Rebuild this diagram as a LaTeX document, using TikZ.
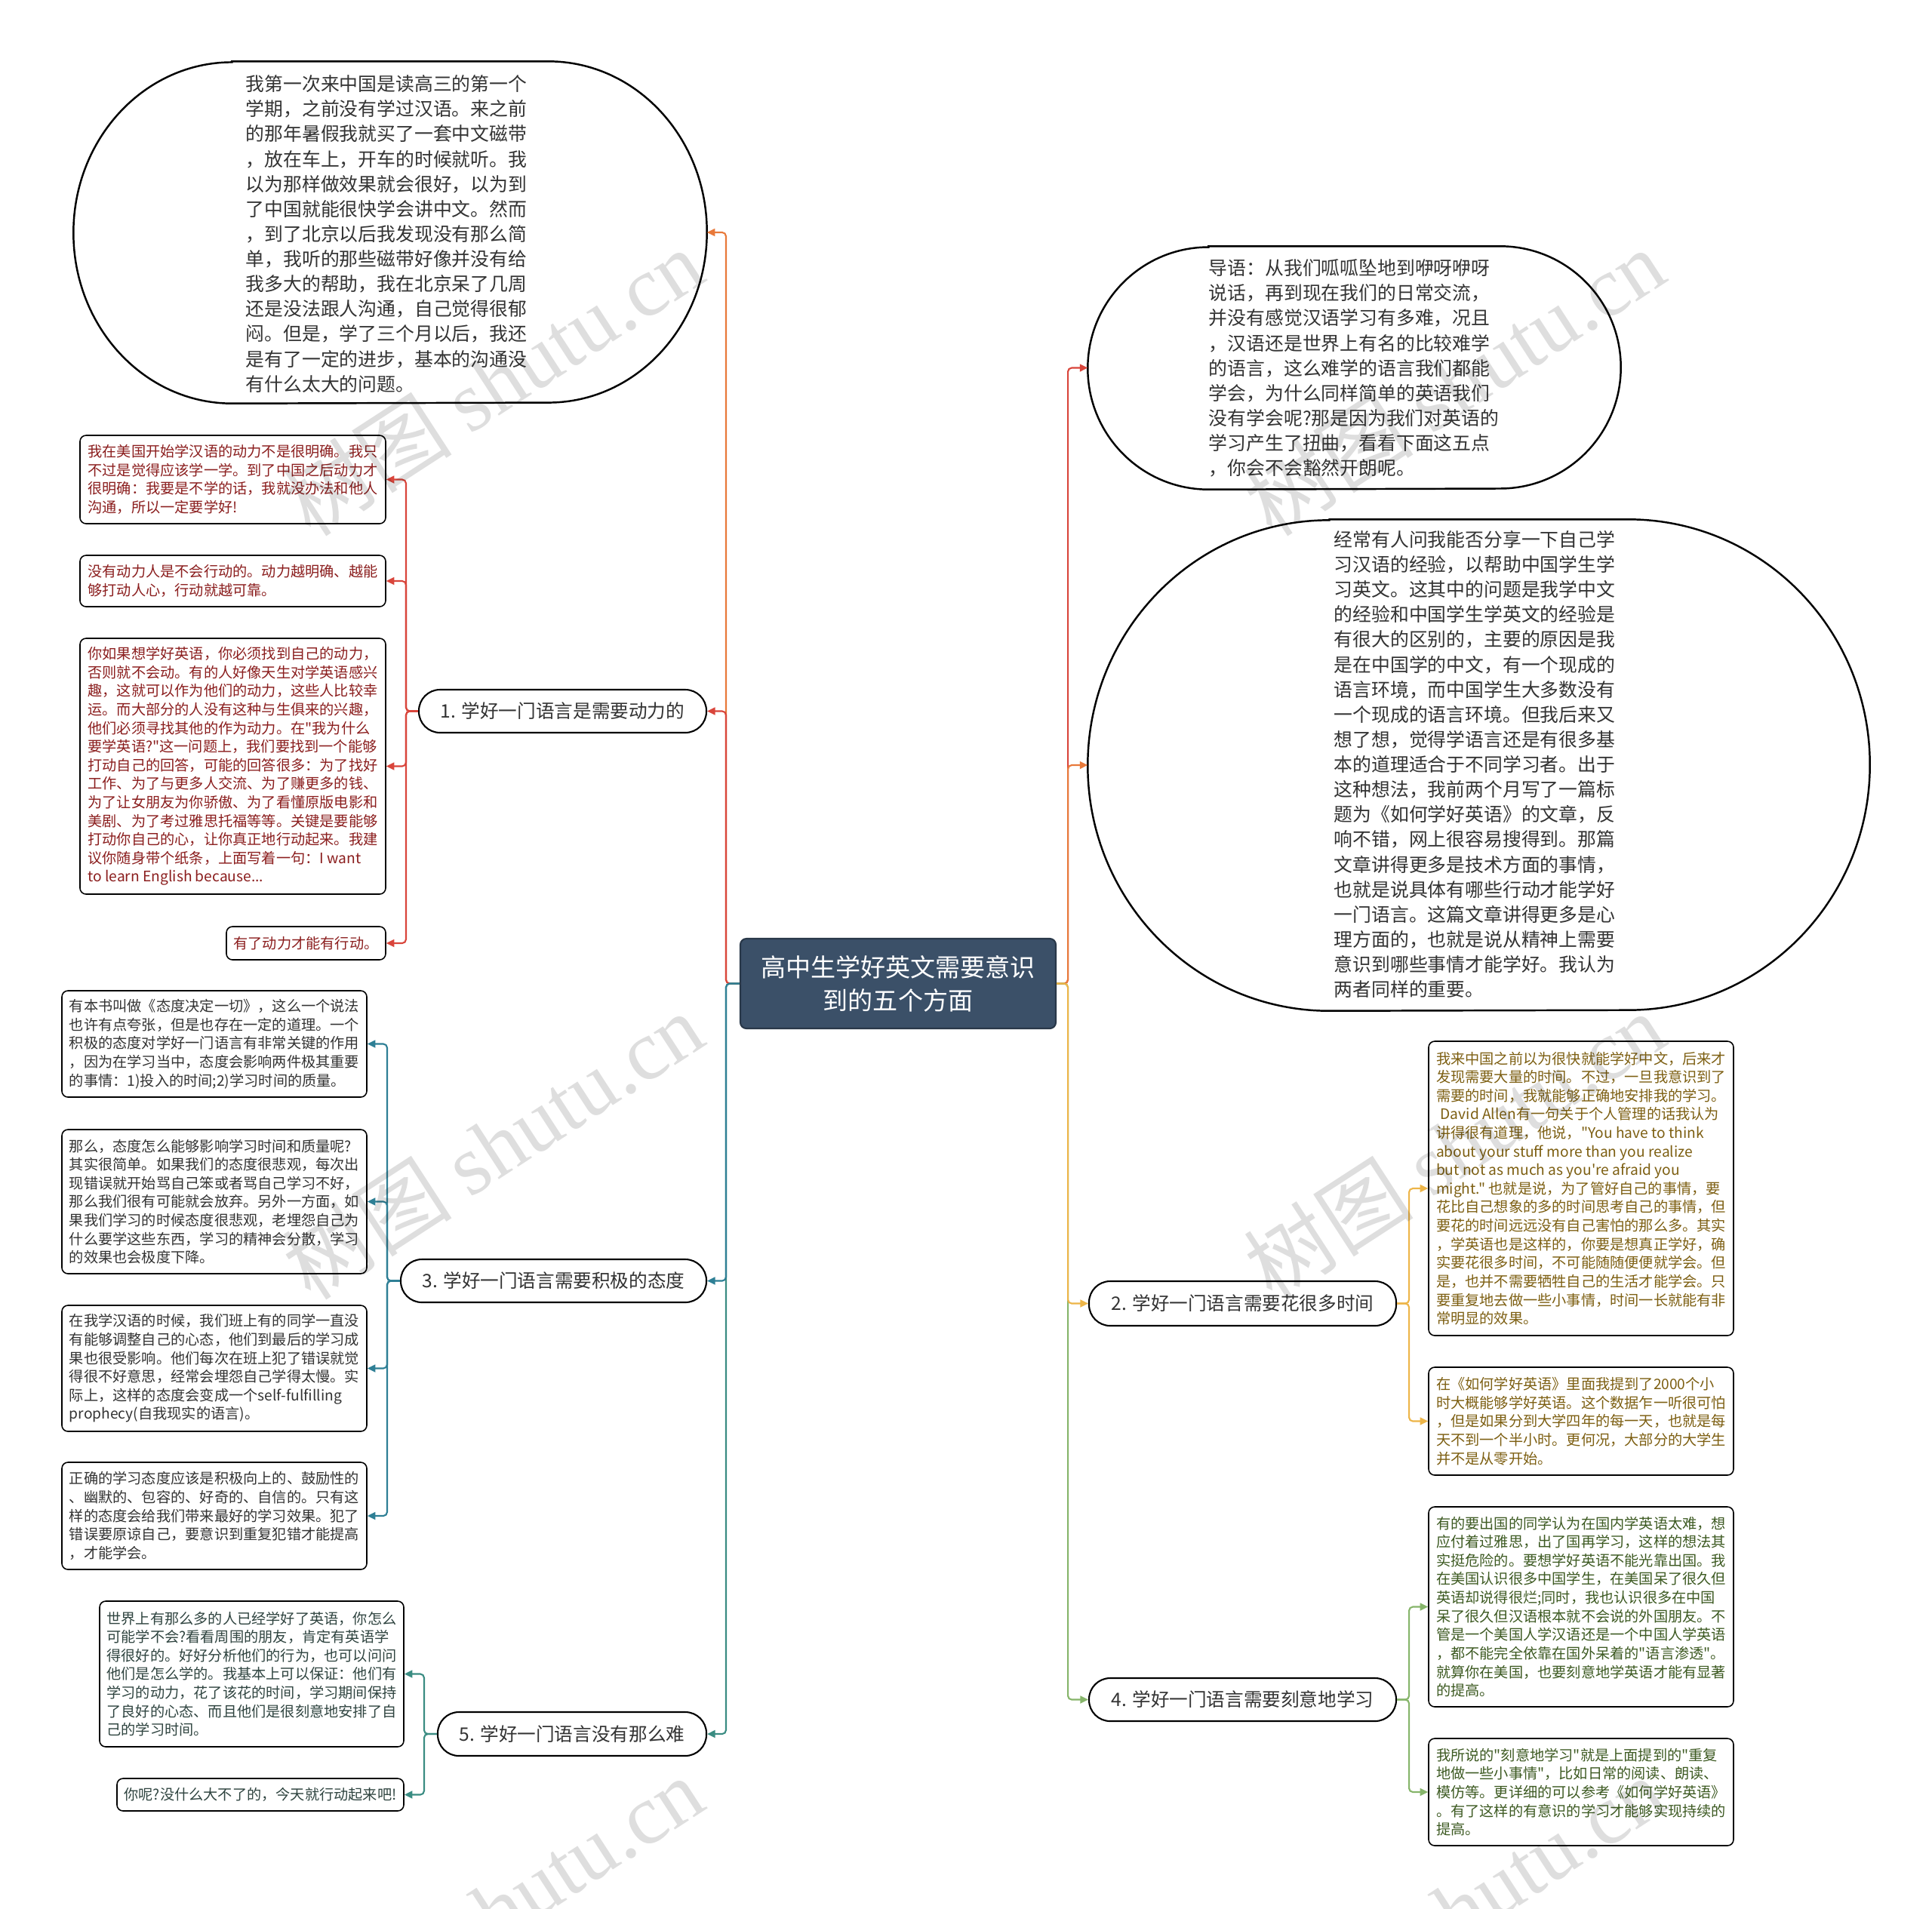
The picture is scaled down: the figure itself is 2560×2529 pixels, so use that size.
\documentclass[tikz,border=0pt]{standalone}
\usepackage{fontspec}
\setmainfont{Noto Sans CJK SC}
\newfontfamily\mainf{Noto Sans CJK SC}
\newfontfamily\wmlatin{Liberation Serif}
\newfontfamily\wmcjk{Noto Sans CJK SC}
\usetikzlibrary{shapes.geometric,arrows.meta}
\newdimen\upx \upx=0.01cm
\definecolor{cOrange}{HTML}{E8793A}
\definecolor{cRed}{HTML}{D9453B}
\definecolor{cTeal}{HTML}{2E7F95}
\definecolor{cDTeal}{HTML}{3A8C82}
\definecolor{cYellow}{HTML}{EDB548}
\definecolor{cGreen}{HTML}{86B56A}
\definecolor{cCenter}{HTML}{3B5068}
\definecolor{tRed}{HTML}{8B1E1E}
\definecolor{tGold}{HTML}{7D5F12}
\definecolor{tGreen}{HTML}{3D5A22}
\definecolor{tDark}{HTML}{333333}
\definecolor{tSlate}{HTML}{2F4440}
\tikzset{
  box/.style={draw=black, line width=0.45pt, rounded corners=0.08cm, fill=white, align=left, inner sep=0pt, font=\mainf\fontsize{5.46pt}{7pt}\selectfont},
  ellnode/.style={rectangle, draw=none, inner sep=0pt},
  ellline/.style={draw=black, line width=0.7pt, fill=white},
  elltext/.style={align=left, inner sep=0pt, text=tDark, font=\mainf\fontsize{7.06pt}{9.42pt}\selectfont},
  pill/.style={draw=black, line width=0.6pt, rounded corners=0.28cm, fill=white, inner sep=0pt, text=tDark, font=\mainf\fontsize{7pt}{9pt}\selectfont},
  centerbox/.style={draw=cCenter!70!black, line width=0.6pt, fill=cCenter, rounded corners=0.08cm, text=white, align=center, inner sep=0pt, font=\mainf\fontsize{9.4pt}{12.5pt}\selectfont},
  conn/.style={line width=0.6pt, -{Triangle[length=3pt,width=2.8pt]}, rounded corners=0.05cm},
  wm/.style={rotate=33, text=black, opacity=0.13, font=\fontsize{32pt}{36pt}\selectfont}
}
\begin{document}
\begin{tikzpicture}[x=0.01cm, y=-0.01cm]
\useasboundingbox (0,0) rectangle (2560,2529);
\fill[white] (0,0) rectangle (2560,2529);

% center
\node[centerbox, minimum width=418\upx, minimum height=119\upx] (c) at (1190,1303.5) {高中生学好英文需要意识\\到的五个方面};

% left capsule
\node[ellnode, minimum width=838\upx, minimum height=452\upx] (le) at (517,308) {};
\draw[ellline] ([xshift=2.1cm]le.north west) -- ([xshift=-2.1cm]le.north east)
  arc[start angle=90, end angle=-90, x radius=2.1cm, y radius=2.26cm]
  -- ([xshift=2.1cm]le.south west)
  arc[start angle=270, end angle=90, x radius=2.1cm, y radius=2.26cm] -- cycle;
\node[elltext] (let) at (512,310) {我第一次来中国是读高三的第一个\\学期，之前没有学过汉语。来之前\\的那年暑假我就买了一套中文磁带\\，放在车上，开车的时候就听。我\\以为那样做效果就会很好，以为到\\了中国就能很快学会讲中文。然而\\，到了北京以后我发现没有那么简\\单，我听的那些磁带好像并没有给\\我多大的帮助，我在北京呆了几周\\还是没法跟人沟通，自己觉得很郁\\闷。但是，学了三个月以后，我还\\是有了一定的进步，基本的沟通没\\有什么太大的问题。};

% right capsules
\node[ellnode, minimum width=705\upx, minimum height=321\upx] (re1) at (1794.5,487.5) {};
\draw[ellline] ([xshift=1.6cm]re1.north west) -- ([xshift=-1.6cm]re1.north east)
  arc[start angle=90, end angle=-90, x radius=1.6cm, y radius=1.605cm]
  -- ([xshift=1.6cm]re1.south west)
  arc[start angle=270, end angle=90, x radius=1.6cm, y radius=1.605cm] -- cycle;
\node[elltext] (re1t) at (1794,488) {导语：从我们呱呱坠地到咿呀咿呀\\说话，再到现在我们的日常交流，\\并没有感觉汉语学习有多难，况且\\，汉语还是世界上有名的比较难学\\的语言，这么难学的语言我们都能\\学会，为什么同样简单的英语我们\\没有学会呢?那是因为我们对英语的\\学习产生了扭曲，看看下面这五点\\，你会不会豁然开朗呢。};

\node[ellnode, minimum width=1035\upx, minimum height=650\upx] (re2) at (1959.5,1014) {};
\draw[ellline] ([xshift=3.2cm]re2.north west) -- ([xshift=-3.2cm]re2.north east)
  arc[start angle=90, end angle=-90, x radius=3.2cm, y radius=3.25cm]
  -- ([xshift=3.2cm]re2.south west)
  arc[start angle=270, end angle=90, x radius=3.2cm, y radius=3.25cm] -- cycle;
\node[elltext] (re2t) at (1954,1013) {经常有人问我能否分享一下自己学\\习汉语的经验，以帮助中国学生学\\习英文。这其中的问题是我学中文\\的经验和中国学生学英文的经验是\\有很大的区别的，主要的原因是我\\是在中国学的中文，有一个现成的\\语言环境，而中国学生大多数没有\\一个现成的语言环境。但我后来又\\想了想，觉得学语言还是有很多基\\本的道理适合于不同学习者。出于\\这种想法，我前两个月写了一篇标\\题为《如何学好英语》的文章，反\\响不错，网上很容易搜得到。那篇\\文章讲得更多是技术方面的事情，\\也就是说具体有哪些行动才能学好\\一门语言。这篇文章讲得更多是心\\理方面的，也就是说从精神上需要\\意识到哪些事情才能学好。我认为\\两者同样的重要。};

% branch nodes
\node[pill, minimum width=381\upx, minimum height=57\upx] (n1) at (745.5,942.5) {1. 学好一门语言是需要动力的};
\node[pill, minimum width=405\upx, minimum height=57\upx] (n3) at (733.5,1697.5) {3. 学好一门语言需要积极的态度};
\node[pill, minimum width=356\upx, minimum height=58\upx] (n5) at (758,2298) {5. 学好一门语言没有那么难};
\node[pill, minimum width=407\upx, minimum height=59\upx] (n2) at (1646.5,1727.5) {2. 学好一门语言需要花很多时间};
\node[pill, minimum width=407\upx, minimum height=57\upx] (n4) at (1646.5,2252.5) {4. 学好一门语言需要刻意地学习};

% red boxes
\node[box, text=tRed, minimum width=405\upx, minimum height=117\upx] (r1) at (308.5,635.5) {我在美国开始学汉语的动力不是很明确。我只\\不过是觉得应该学一学。到了中国之后动力才\\很明确：我要是不学的话，我就没办法和他人\\沟通，所以一定要学好!};
\node[box, text=tRed, minimum width=405\upx, minimum height=68\upx] (r2) at (308.5,770) {没有动力人是不会行动的。动力越明确、越能\\够打动人心，行动就越可靠。};
\node[box, text=tRed, minimum width=405\upx, minimum height=339\upx] (r3) at (308.5,1015.5) {你如果想学好英语，你必须找到自己的动力，\\否则就不会动。有的人好像天生对学英语感兴\\趣，这就可以作为他们的动力，这些人比较幸\\运。而大部分的人没有这种与生俱来的兴趣，\\他们必须寻找其他的作为动力。在"我为什么\\要学英语?"这一问题上，我们要找到一个能够\\打动自己的回答，可能的回答很多：为了找好\\工作、为了与更多人交流、为了赚更多的钱、\\为了让女朋友为你骄傲、为了看懂原版电影和\\美剧、为了考过雅思托福等等。关键是要能够\\打动你自己的心，让你真正地行动起来。我建\\议你随身带个纸条，上面写着一句：I want\\to learn English because...};
\node[box, text=tRed, minimum width=211\upx, minimum height=44\upx] (r4) at (405.5,1250) {有了动力才能有行动。};

% teal boxes
\node[box, text=tDark, minimum width=404\upx, minimum height=141\upx] (t1) at (284,1383.5) {有本书叫做《态度决定一切》，这么一个说法\\也许有点夸张，但是也存在一定的道理。一个\\积极的态度对学好一门语言有非常关键的作用\\，因为在学习当中，态度会影响两件极其重要\\的事情：1)投入的时间;2)学习时间的质量。};
\node[box, text=tDark, minimum width=404\upx, minimum height=191\upx] (t2) at (284,1592.5) {那么，态度怎么能够影响学习时间和质量呢?\\其实很简单。如果我们的态度很悲观，每次出\\现错误就开始骂自己笨或者骂自己学习不好，\\那么我们很有可能就会放弃。另外一方面，如\\果我们学习的时候态度很悲观，老埋怨自己为\\什么要学这些东西，学习的精神会分散，学习\\的效果也会极度下降。};
\node[box, text=tDark, minimum width=404\upx, minimum height=167\upx] (t3) at (284,1813.5) {在我学汉语的时候，我们班上有的同学一直没\\有能够调整自己的心态，他们到最后的学习成\\果也很受影响。他们每次在班上犯了错误就觉\\得很不好意思，经常会埋怨自己学得太慢。实\\际上，这样的态度会变成一个self-fulfilling\\prophecy(自我现实的语言)。};
\node[box, text=tDark, minimum width=404\upx, minimum height=142\upx] (t4) at (284,2009) {正确的学习态度应该是积极向上的、鼓励性的\\、幽默的、包容的、好奇的、自信的。只有这\\样的态度会给我们带来最好的学习效果。犯了\\错误要原谅自己，要意识到重复犯错才能提高\\，才能学会。};

% item 5 boxes
\node[box, text=tSlate, minimum width=403\upx, minimum height=193\upx] (g5a) at (333.5,2218.5) {世界上有那么多的人已经学好了英语，你怎么\\可能学不会?看看周围的朋友，肯定有英语学\\得很好的。好好分析他们的行为，也可以问问\\他们是怎么学的。我基本上可以保证：他们有\\学习的动力，花了该花的时间，学习期间保持\\了良好的心态、而且他们是很刻意地安排了自\\己的学习时间。};
\node[box, text=tSlate, minimum width=380\upx, minimum height=43\upx] (g5b) at (345,2378.5) {你呢?没什么大不了的，今天就行动起来吧!};

% yellow boxes
\node[box, text=tGold, minimum width=404\upx, minimum height=390\upx] (y1) at (2095,1575) {我来中国之前以为很快就能学好中文，后来才\\发现需要大量的时间。不过，一旦我意识到了\\需要的时间，我就能够正确地安排我的学习。\\\hspace{0.3em}David Allen有一句关于个人管理的话我认为\\讲得很有道理，他说，"You have to think\\about your stuff more than you realize\\but not as much as you're afraid you\\might." 也就是说，为了管好自己的事情，要\\花比自己想象的多的时间思考自己的事情，但\\要花的时间远远没有自己害怕的那么多。其实\\，学英语也是这样的，你要是想真正学好，确\\实要花很多时间，不可能随随便便就学会。但\\是，也并不需要牺牲自己的生活才能学会。只\\要重复地去做一些小事情，时间一长就能有非\\常明显的效果。};
\node[box, text=tGold, minimum width=404\upx, minimum height=143\upx] (y2) at (2095,1883.5) {在《如何学好英语》里面我提到了2000个小\\时大概能够学好英语。这个数据乍一听很可怕\\，但是如果分到大学四年的每一天，也就是每\\天不到一个半小时。更何况，大部分的大学生\\并不是从零开始。};

% green boxes
\node[box, text=tGreen, minimum width=404\upx, minimum height=265\upx] (g4a) at (2095,2129.5) {有的要出国的同学认为在国内学英语太难，想\\应付着过雅思，出了国再学习，这样的想法其\\实挺危险的。要想学好英语不能光靠出国。我\\在美国认识很多中国学生，在美国呆了很久但\\英语却说得很烂;同时，我也认识很多在中国\\呆了很久但汉语根本就不会说的外国朋友。不\\管是一个美国人学汉语还是一个中国人学英语\\，都不能完全依靠在国外呆着的"语言渗透"。\\就算你在美国，也要刻意地学英语才能有显著\\的提高。};
\node[box, text=tGreen, minimum width=404\upx, minimum height=142\upx] (g4b) at (2095,2375) {我所说的"刻意地学习"就是上面提到的"重复\\地做一些小事情"，比如日常的阅读、朗读、\\模仿等。更详细的可以参考《如何学好英语》\\。有了这样的有意识的学习才能够实现持续的\\提高。};

% connectors from center
\draw[conn, cOrange] (c.west) -- ++(-18,0) |- (le.east);
\draw[conn, cRed] (c.west) -- ++(-18,0) |- (n1.east);
\draw[conn, cDTeal] (c.west) -- ++(-18,0) |- (n5.east);
\draw[conn, cTeal] (c.west) -- ++(-18,0) |- (n3.east);
\draw[conn, cRed] (c.east) -- ++(15,0) |- (re1.west);
\draw[conn, cOrange] (c.east) -- ++(15,0) |- (re2.west);
\draw[conn, cGreen] (c.east) -- ++(15,0) |- (n4.west);
\draw[conn, cYellow] (c.east) -- ++(15,0) |- (n2.west);

% branch 1 children
\foreach \b in {r1,r2,r3,r4} \draw[conn, cRed] (n1.west) -- ++(-16,0) |- (\b.east);
% branch 3 children
\foreach \b in {t1,t2,t3,t4} \draw[conn, cTeal] (n3.west) -- ++(-17,0) |- (\b.east);
% branch 5 children
\foreach \b in {g5a,g5b} \draw[conn, cDTeal] (n5.west) -- ++(-17,0) |- (\b.east);
% branch 2 children
\foreach \b in {y1,y2} \draw[conn, cYellow] (n2.east) -- ++(16,0) |- (\b.west);
% branch 4 children
\foreach \b in {g4a,g4b} \draw[conn, cGreen] (n4.east) -- ++(16,0) |- (\b.west);

% watermarks
\foreach \wx/\wy [count=\i] in {653/506, 1927/506, 653/1518, 1927/1518, 653/2531, 1927/2531}
  \node[wm] (wm\i) at (\wx,\wy) {{\wmcjk 树图} {\wmlatin shutu.cn}};
\end{tikzpicture}
\end{document}
